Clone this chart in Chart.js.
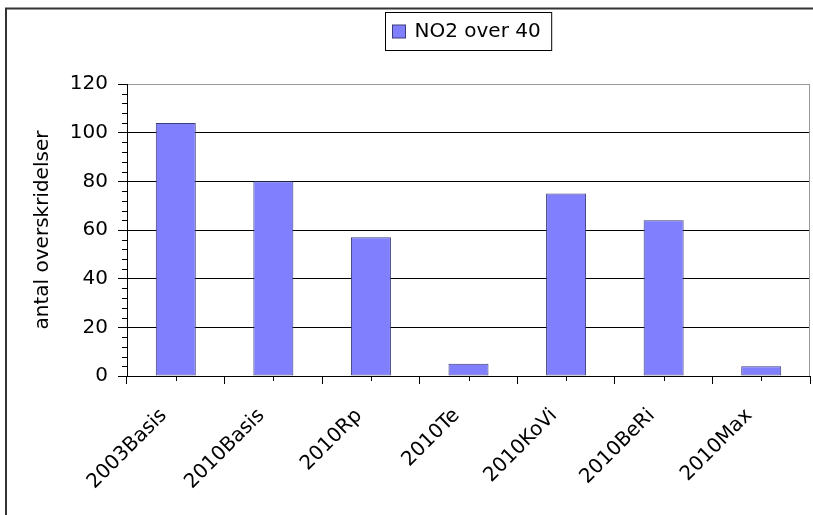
<!DOCTYPE html>
<html>
<head>
<meta charset="utf-8">
<script src="https://cdn.jsdelivr.net/npm/chart.js@4.4.1/dist/chart.umd.min.js"></script>
<style>
  html, body { margin: 0; padding: 0; background: #fff; overflow: hidden; }
  #wrap { position: relative; width: 813px; height: 515px; }
</style>
</head>
<body>
<div id="wrap"><canvas id="chart"></canvas></div>
<script>
/* data */
const categories = ["2003Basis", "2010Basis", "2010Rp", "2010Te", "2010KoVi", "2010BeRi", "2010Max"];
const no2Over40 = [104, 80, 57, 5, 75, 64, 4];
const yTicks = [0, 20, 40, 60, 80, 100, 120];
const yMinorStep = 4;
const seriesName = "NO2 over 40";
const axisTitle = "antal overskridelser";

const FONT = { family: '"DejaVu Sans", sans-serif', size: 20 };

// frame, minor ticks, plot border and the boxed legend (Excel look)
const excelLook = {
  id: "excelLook",
  beforeDraw(chart) {
    const ctx = chart.ctx;
    ctx.save();
    ctx.fillStyle = "#fff";
    ctx.fillRect(0, 0, chart.width, chart.height);
    ctx.restore();
  },
  afterDraw(chart) {
    const ctx = chart.ctx;
    const area = chart.chartArea;
    const y = chart.scales.y, x = chart.scales.x;
    ctx.save();

    // outer frame (left and top edges only, the rest is cut off)
    ctx.strokeStyle = "#333";
    ctx.lineWidth = 2;
    ctx.beginPath();
    ctx.moveTo(6, chart.height);
    ctx.lineTo(6, 8.5);
    ctx.lineTo(chart.width + 5, 8.5);
    ctx.stroke();

    // plot area right border
    ctx.strokeStyle = "#999";
    ctx.lineWidth = 1;
    ctx.beginPath();
    ctx.moveTo(Math.round(area.right) - 0.5, area.top);
    ctx.lineTo(Math.round(area.right) - 0.5, area.bottom);
    ctx.stroke();

    // minor ticks on y axis
    ctx.strokeStyle = "#000";
    ctx.beginPath();
    for (let v = 0; v <= y.max; v += yMinorStep) {
      if (v % 20 === 0) continue;
      const py = Math.round(y.getPixelForValue(v)) + 0.5;
      ctx.moveTo(area.left - 5, py);
      ctx.lineTo(area.left, py);
    }
    // short ticks at category centres
    categories.forEach((c, i) => {
      const px = Math.round(x.getPixelForValue(i)) + 0.5;
      ctx.moveTo(px, area.bottom);
      ctx.lineTo(px, area.bottom + 5);
    });
    ctx.stroke();

    // legend box
    const ds = chart.data.datasets[0];
    ctx.font = FONT.size + "px " + FONT.family;
    const tw = ctx.measureText(ds.label).width;
    const boxW = 40 + tw;
    const cx = (area.left + area.right) / 2;
    const bx = Math.round(cx - boxW / 2) + 0.5;
    ctx.strokeStyle = "#000";
    ctx.strokeRect(bx, 12.5, boxW, 38);
    ctx.fillStyle = ds.backgroundColor;
    ctx.fillRect(bx + 7, 25, 13, 13);
    ctx.strokeStyle = ds.borderColor;
    ctx.strokeRect(bx + 7, 25, 13, 13);
    ctx.fillStyle = "#000";
    ctx.textBaseline = "middle";
    ctx.fillText(ds.label, bx + 29, 32);
    ctx.restore();
  }
};

new Chart(document.getElementById("chart"), {
  type: "bar",
  data: {
    labels: categories,
    datasets: [{
      label: seriesName,
      data: no2Over40,
      backgroundColor: "#8080ff",
      borderColor: "#3c3c78",
      borderWidth: 1,
      borderSkipped: false,
      barPercentage: 0.41,
      categoryPercentage: 1
    }]
  },
  options: {
    responsive: true,
    maintainAspectRatio: false,
    animation: false,
    layout: { padding: { left: 31, right: 3, top: 84, bottom: 0 } },
    plugins: {
      legend: { display: false },
      tooltip: { enabled: false }
    },
    scales: {
      x: {
        ticks: { font: FONT, color: "#000", minRotation: 45, maxRotation: 45, autoSkip: false, padding: 20, labelOffset: -12 },
        grid: { drawOnChartArea: false, tickLength: 8, color: "#000", offset: true },
        border: { color: "#000", width: 1 },
        afterFit: s => { s.height = 139; }
      },
      y: {
        min: 0,
        max: 120,
        afterBuildTicks: s => { s.ticks = yTicks.map(v => ({ value: v })); },
        ticks: { font: FONT, color: "#000", padding: 10 },
        grid: {
          color: c => (c.tick && c.tick.value === 120 ? "#999" : "#000"),
          tickColor: "#000",
          tickLength: 9,
          lineWidth: 1
        },
        border: { color: "#000", width: 1 },
        title: { display: true, text: axisTitle, font: FONT, color: "#000", padding: 0 },
        afterFit: s => { s.width = 96; }
      }
    }
  },
  plugins: [excelLook]
});
</script>
</body>
</html>
